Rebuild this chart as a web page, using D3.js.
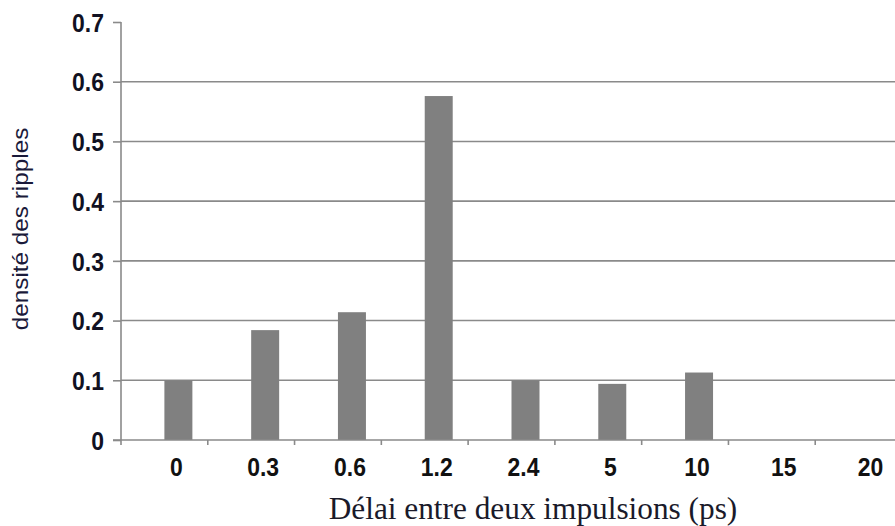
<!DOCTYPE html>
<html><head><meta charset="utf-8">
<script src="https://cdn.jsdelivr.net/npm/d3@7"></script>
<style>body{margin:0;background:#fff}svg{display:block}</style>
</head><body>
<svg id="c" width="895" height="526"></svg>
<script>
const categories = ["0","0.3","0.6","1.2","2.4","5","10","15","20"];
const seriesNames = ["vide","densité"];
const values = [0.1, 0.184, 0.214, 0.576, 0.1, 0.094, 0.113, 0, 0];
const yTicks = [0,0.1,0.2,0.3,0.4,0.5,0.6,0.7];
const xTitle = "Délai entre deux impulsions (ps)";
const yTitle = "densité des ripples";

const svg = d3.select("#c");
const mL = 121, mR = 902, mT = 22, mB = 440;
const sx = 1.02, sy = 1.13;
const x0 = d3.scaleBand().domain(categories).range([mL, mR]).padding(0);
const x1 = d3.scaleBand().domain(seriesNames).range([0, x0.bandwidth()]).paddingInner(0).paddingOuter(0.55);
const y = d3.scaleLinear().domain([0,0.7]).range([mB, mT]);
const grey = "#8a8a8a";

// gridlines
svg.append("g").selectAll("line").data(yTicks.filter(d=>d>0 && d<0.7)).join("line")
  .attr("x1", mL).attr("x2", 895).attr("y1", d=>y(d)).attr("y2", d=>y(d))
  .attr("stroke", grey).attr("stroke-width", 1.6);

// bars
svg.append("g").selectAll("rect").data(values.map((v,i)=>({c:categories[i],v}))).join("rect")
  .attr("x", d=>x0(d.c)+x1("densité")).attr("width", x1.bandwidth())
  .attr("y", d=>y(d.v)).attr("height", d=>mB-y(d.v))
  .attr("fill", "#808080");

// y axis
const ya = svg.append("g").attr("transform", `translate(${mL},0)`)
  .call(d3.axisLeft(y).tickValues(yTicks).tickFormat(d3.format("")).tickSize(8).tickPadding(0));
ya.select(".domain").attr("stroke", grey).attr("stroke-width", 1.6).attr("d", `M0,${mT}V${mB}`);
ya.selectAll(".tick line").attr("stroke", grey).attr("stroke-width", 1.6);
ya.selectAll("text").attr("font-family", "Liberation Sans, Arial, sans-serif").attr("font-weight", "bold")
  .attr("font-size", 22.5).attr("fill", "#111122").attr("x", -17/sx).attr("dy", "0.36em")
  .attr("transform", `scale(${sx},${sy})`);

// x axis
const xa = svg.append("g").attr("transform", `translate(0,${mB})`)
  .call(d3.axisBottom(x0).tickSize(0).tickPadding(0));
xa.select(".domain").attr("stroke", grey).attr("stroke-width", 1.6).attr("d", `M${mL-8},0H${mR}`);
xa.selectAll(".tick text").attr("font-family", "Liberation Sans, Arial, sans-serif").attr("font-weight", "bold")
  .attr("font-size", 22.5).attr("fill", "#111").attr("x", 12/sx).attr("y", 35.7/sy).attr("dy", 0)
  .attr("transform", `scale(${sx},${sy})`);
// category boundary ticks
xa.append("g").selectAll("line").data(categories.slice(1)).join("line")
  .attr("x1", d=>x0(d)).attr("x2", d=>x0(d)).attr("y1", 0).attr("y2", 5)
  .attr("stroke", grey).attr("stroke-width", 1.6);
xa.append("line").attr("x1", mL).attr("x2", mL).attr("y1", 0).attr("y2", 5)
  .attr("stroke", grey).attr("stroke-width", 1.6);

// titles
svg.append("text").attr("x", 533).attr("y", 519).attr("text-anchor", "middle")
  .attr("font-family", "Liberation Serif, Times New Roman, serif").attr("font-size", 31.3)
  .attr("fill", "#1a1a2a").text(xTitle);
svg.append("text").attr("transform", "translate(28,229) rotate(-90) scale(1.13,1)").attr("text-anchor", "middle")
  .attr("font-family", "Liberation Sans, Arial, sans-serif").attr("font-size", 21.5)
  .attr("fill", "#1a1a3a").text(yTitle);
</script>
</body></html>
